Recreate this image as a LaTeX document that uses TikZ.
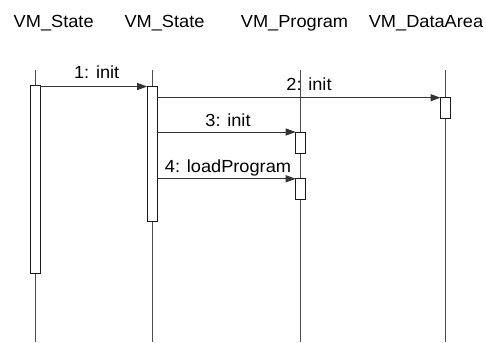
\documentclass[tikz,border=0pt]{standalone}
\usepackage{fontspec}
\setmainfont[FakeStretch=1.04]{Liberation Sans}
\usetikzlibrary{arrows.meta}
\begin{document}
\begin{tikzpicture}[x=1pt,y=-1pt,
  lbl/.style={font=\fontsize{17.5}{19}\selectfont, anchor=base, inner sep=0pt},
  life/.style={draw=black!70, line width=1pt},
  act/.style={draw=black!90, fill=white, line width=1pt, minimum width=10pt, inner sep=0pt, outer sep=0pt},
  msg/.style={draw=black!80, line width=1pt, -{Triangle[length=10pt,width=7pt]}}]
\useasboundingbox (0,0) rectangle (486,342);
% headers
\node[lbl] (h1) at (53.7,28) {VM\_State};
\node[lbl] (h2) at (164.5,28) {VM\_State};
\node[lbl] (h3) at (294.5,28) {VM\_Program};
\node[lbl] (h4) at (426,28) {VM\_DataArea};
% lifelines
\coordinate (t1) at (35,70);   \coordinate (e1) at (35,342);
\coordinate (t2) at (152.2,70); \coordinate (e2) at (152.2,342);
\coordinate (t3) at (300.7,70); \coordinate (e3) at (300.7,342);
\coordinate (t4) at (445.5,70); \coordinate (e4) at (445.5,342);
\draw[life] (t1) -- (e1);
\draw[life] (t2) -- (e2);
\draw[life] (t3) -- (e3);
\draw[life] (t4) -- (e4);
% activations
\node[act, minimum height=188pt] (a1) at (35,179.2) {};
\node[act, minimum height=135pt] (a2) at (152.2,154) {};
\node[act, minimum height=21pt] (a3) at (300.7,142.5) {};
\node[act, minimum height=21pt] (a5) at (300.7,189.3) {};
\node[act, minimum height=21pt] (a4) at (445.5,108.2) {};
% messages
\draw[msg] (a1.east |- a2.north west) -- (a2.north west);
\draw[msg] (a2.east |- a4.north west) -- (a4.north west);
\draw[msg] (a2.east |- a3.north west) -- (a3.north west);
\draw[msg] (a2.east |- a5.north west) -- (a5.north west);
\node[lbl] (m1) at (96.7,78) {1: init};
\node[lbl] (m2) at (309,91) {2: init};
\node[lbl] (m3) at (228,126) {3: init};
\node[lbl] (m4) at (228,172.7) {4: loadProgram};
\end{tikzpicture}
\end{document}
